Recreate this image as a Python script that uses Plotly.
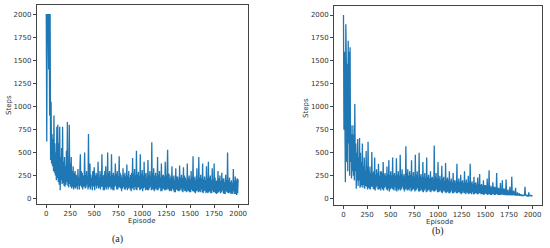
import plotly.graph_objects as go

# Steps per episode, every 5 episodes (0..2000)
steps_a = [
    2000, 620, 2000, 1800, 2000, 1400, 2000, 900, 2000, 420, 1050, 380, 700, 350, 650, 300, 900, 280, 600, 250,
    500, 200, 780, 220, 800, 180, 600, 150, 780, 90, 450, 200, 550, 160, 780, 170, 400, 140, 450, 130,
    350, 150, 520, 180, 830, 140, 400, 120, 800, 160, 380, 130, 450, 110, 300, 130, 350, 100, 280, 120,
    300, 110, 260, 130, 250, 100, 320, 140, 230, 100, 280, 480, 140, 300, 120, 280, 100, 250, 130, 220,
    500, 110, 260, 120, 300, 150, 240, 100, 700, 120, 300, 380, 100, 260, 140, 230, 90, 300, 130, 270,
    340, 90, 250, 140, 280, 110, 260, 140, 400, 110, 230, 120, 300, 100, 260, 130, 480, 130, 240, 90,
    260, 90, 300, 120, 350, 100, 250, 130, 500, 100, 280, 120, 300, 130, 240, 100, 480, 110, 260, 90,
    280, 90, 250, 130, 380, 140, 270, 100, 300, 100, 240, 120, 460, 120, 280, 110, 260, 80, 230, 110,
    330, 130, 260, 100, 280, 100, 240, 120, 370, 90, 250, 110, 300, 120, 230, 100, 260, 80, 280, 110,
    440, 110, 270, 90, 320, 130, 250, 100, 520, 90, 260, 120, 290, 120, 240, 90, 480, 100, 270, 110,
    310, 80, 250, 110, 400, 120, 270, 90, 280, 100, 230, 90, 420, 90, 260, 110, 300, 130, 240, 90,
    610, 100, 280, 100, 330, 80, 250, 100, 280, 110, 240, 90, 450, 90, 260, 110, 300, 120, 230, 80,
    380, 80, 250, 100, 260, 110, 240, 90, 400, 90, 250, 100, 300, 530, 100, 240, 270, 80, 220, 90,
    250, 80, 350, 110, 230, 90, 250, 70, 200, 70, 330, 100, 240, 90, 240, 80, 210, 80, 360, 90,
    230, 110, 260, 80, 220, 70, 340, 100, 250, 80, 230, 80, 200, 70, 380, 90, 220, 80, 250, 70,
    210, 70, 300, 100, 230, 80, 460, 80, 220, 70, 240, 60, 200, 80, 330, 90, 210, 70, 450, 80,
    230, 70, 260, 100, 220, 70, 380, 60, 210, 80, 240, 90, 200, 60, 350, 70, 220, 60, 400, 70,
    230, 80, 250, 60, 200, 60, 330, 90, 210, 70, 380, 70, 230, 60, 190, 50, 200, 60, 300, 70,
    220, 80, 250, 60, 190, 70, 280, 90, 210, 60, 220, 50, 180, 50, 260, 80, 200, 70, 500, 60,
    200, 60, 230, 70, 180, 50, 200, 60, 170, 50, 320, 80, 190, 50, 240, 50, 200, 40, 220, 60,
    210,
]

steps_b = [
    2000, 750, 1600, 900, 180, 1900, 1500, 400, 1470, 300, 1720, 600, 1600, 250, 1650, 400, 800, 220, 700, 300,
    800, 250, 700, 200, 1030, 300, 600, 110, 500, 200, 650, 140, 450, 200, 660, 120, 500, 130, 400, 150,
    600, 120, 350, 150, 450, 110, 300, 140, 520, 130, 350, 100, 620, 120, 300, 110, 350, 100, 280, 130,
    510, 130, 280, 110, 300, 100, 450, 90, 260, 120, 320, 140, 280, 100, 380, 100, 250, 110, 300, 90,
    300, 120, 280, 100, 400, 90, 260, 120, 280, 130, 250, 100, 350, 90, 270, 110, 420, 80, 260, 100,
    300, 120, 250, 110, 450, 100, 260, 90, 280, 130, 250, 90, 440, 80, 260, 110, 300, 90, 250, 110,
    480, 90, 270, 110, 320, 130, 250, 100, 270, 80, 240, 100, 570, 110, 280, 90, 320, 100, 250, 90,
    300, 120, 260, 80, 420, 90, 250, 100, 290, 110, 240, 80, 480, 90, 260, 100, 300, 120, 230, 80,
    500, 80, 250, 90, 270, 100, 230, 80, 400, 70, 240, 90, 280, 110, 220, 70, 450, 80, 240, 90,
    260, 100, 220, 80, 300, 70, 230, 90, 240, 90, 210, 80, 580, 80, 240, 90, 280, 100, 220, 70,
    400, 70, 220, 80, 250, 90, 200, 70, 360, 60, 220, 80, 240, 90, 190, 70, 390, 60, 210, 70,
    230, 80, 200, 60, 300, 60, 190, 70, 220, 90, 180, 60, 280, 60, 200, 70, 200, 80, 170, 60,
    380, 60, 190, 70, 220, 70, 180, 60, 260, 50, 190, 60, 200, 80, 170, 60, 300, 60, 180, 50,
    210, 70, 170, 60, 250, 50, 180, 60, 380, 60, 170, 50, 190, 70, 160, 50, 240, 50, 170, 60,
    180, 60, 150, 50, 230, 50, 160, 60, 270, 60, 150, 50, 160, 50, 140, 50, 200, 40, 150, 50,
    150, 60, 140, 50, 220, 40, 150, 50, 310, 50, 130, 40, 140, 40, 120, 50, 180, 50, 130, 40,
    130, 40, 120, 50, 280, 50, 120, 40, 120, 40, 110, 40, 170, 40, 100, 50, 200, 45, 110, 40,
    110, 40, 100, 40, 210, 40, 90, 40, 100, 35, 80, 40, 130, 40, 90, 35, 240, 35, 80, 40,
    90, 40, 70, 35, 120, 35, 60, 35, 70, 35, 50, 35, 60, 30, 50, 35, 45, 35, 40, 30,
    40, 30, 45, 35, 130, 35, 40, 30, 40, 30, 35, 30, 70, 30, 40, 30, 40, 30, 35, 30,
    35,
]

episodes_a = list(range(0, 5 * len(steps_a), 5))
episodes_b = list(range(0, 5 * len(steps_b), 5))

x_ticks = [0, 250, 500, 750, 1000, 1250, 1500, 1750, 2000]
y_ticks = [0, 250, 500, 750, 1000, 1250, 1500, 1750, 2000]

blue = '#1f77b4'
font_main = 'DejaVu Sans'

fig = go.Figure()
fig.add_trace(go.Scatter(x=episodes_a, y=steps_a, mode='lines',
                         line=dict(color=blue, width=1.3), xaxis='x', yaxis='y',
                         showlegend=False))
fig.add_trace(go.Scatter(x=episodes_b, y=steps_b, mode='lines',
                         line=dict(color=blue, width=1.3), xaxis='x2', yaxis='y2',
                         showlegend=False))

axis_style = dict(showgrid=False, zeroline=False, showline=True, mirror=True,
                  linecolor='#444444', linewidth=0.8, ticks='outside', ticklen=3,
                  tickwidth=0.8, tickcolor='#444444',
                  tickfont=dict(family=font_main, size=7, color='#333333'))

fig.update_layout(
    width=550, height=248,
    margin=dict(l=0, r=0, t=0, b=0),
    plot_bgcolor='white', paper_bgcolor='white',
    xaxis=dict(domain=[0.0667, 0.4504], range=[-100, 2100], tickvals=x_ticks,
               anchor='y', **axis_style),
    yaxis=dict(domain=[0.1774, 0.9798], range=[-58, 2098], tickvals=y_ticks,
               anchor='x', **axis_style),
    xaxis2=dict(domain=[0.6073, 0.9855], range=[-100, 2100], tickvals=x_ticks,
                anchor='y2', **axis_style),
    yaxis2=dict(domain=[0.1734, 0.9758], range=[-68, 2098], tickvals=y_ticks,
                anchor='x2', **axis_style),
)

label_font = dict(family=font_main, size=7, color='#333333')
caption_font = dict(family='Liberation Serif', size=10, color='#222222')
annotations = [
    dict(text='Steps', x=9 / 550, y=1 - 105 / 248, textangle=-90, font=label_font),
    dict(text='Episode', x=142 / 550, y=1 - 221 / 248, font=label_font),
    dict(text='(a)', x=117 / 550, y=1 - 239 / 248, font=caption_font),
    dict(text='Steps', x=306 / 550, y=1 - 108 / 248, textangle=-90, font=label_font),
    dict(text='Episode', x=440 / 550, y=1 - 222 / 248, font=label_font),
    dict(text='(b)', x=438 / 550, y=1 - 231 / 248, font=caption_font),
]
for a in annotations:
    fig.add_annotation(xref='paper', yref='paper', showarrow=False,
                       xanchor='center', yanchor='middle', **a)

# drop the browser's default body margin so the figure sits at the page corner
fig.write_html("out.html", config={'displayModeBar': False},
               post_script="document.body.style.margin='0';")
